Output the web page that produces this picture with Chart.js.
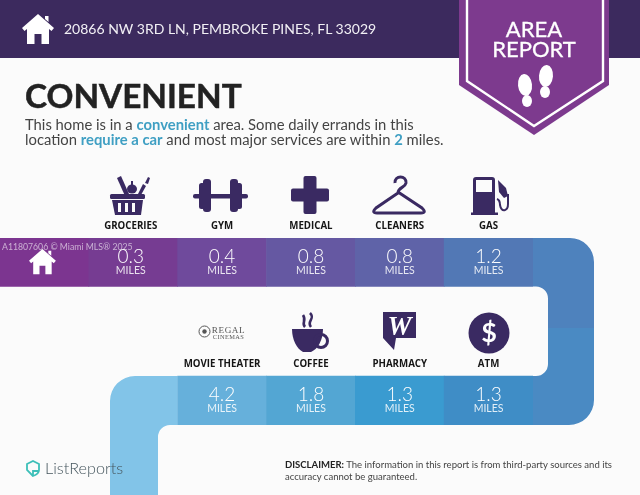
<!DOCTYPE html>
<html>
<head>
<meta charset="utf-8">
<script src="https://cdn.jsdelivr.net/npm/chart.js@4"></script>
<style>
  html, body { margin: 0; padding: 0; background: #fbfbfb; }
  #page { position: relative; width: 640px; height: 495px; overflow: hidden; font-family: Lato, sans-serif; }
  #page > * { position: absolute; }
  #topbar { left: 0; top: 0; width: 640px; height: 58px; background: #3c2a5e; }
  canvas { left: 0; top: 0; }
  #art { left: 0; top: 0; pointer-events: none; }
  .t { white-space: nowrap; }
  #address { left: 64px; top: 20px; font-size: 14px; line-height: 18px; color: #f2f0f5; }
  #area { left: 459px; width: 150px; top: 19px; text-align: center; font-size: 22px; line-height: 20px; color: #fff; -webkit-text-stroke: .3px #fff; }
  #headline { left: 25px; top: 74px; font-size: 33.3px; line-height: 42px; font-weight: 700; color: #222; -webkit-text-stroke: .5px #222; }
  #intro { left: 25px; top: 117px; font-size: 14.8px; line-height: 14.5px; color: #444; }
  #intro b { color: #3f9fc3; }
  #mark { left: 2px; top: 241px; font-size: 8.7px; line-height: 12px; color: rgba(255,255,255,.6); }
  #brand { left: 45px; top: 458px; font-size: 16.2px; line-height: 20px; font-weight: 300; color: #46565e; }
  #note { left: 285px; top: 459px; font-size: 9.54px; line-height: 12px; color: #444; }
  #note b { color: #222; }
</style>
</head>
<body>
<div id="page">
  <div id="topbar"></div>
  <canvas id="chart" width="640" height="495"></canvas>
  <svg id="art" width="640" height="495" viewBox="0 0 640 495">
    <defs>
      <path id="home" d="M16 0 L32 14 L29.5 17 L27 15 V30 H19.5 V20 H12.5 V30 H5 V15 L2.5 17 L0 14 Z M23 2 H26.5 V8 L23 5 Z"/>
    </defs>
    <use href="#home" x="22" y="14" fill="#fff"/>
    <use href="#home" transform="translate(29 249) scale(.84)" fill="#fff"/>

    <!-- ribbon -->
    <path d="M459 0 H609 V85 L534 135 L459 85 Z" fill="#7d3a8e"/>
    <path d="M467 0 V81 L534 126 L603 81 V0" fill="none" stroke="#fff" stroke-width="2.4"/>
    <g fill="#fff">
      <ellipse cx="525" cy="85" rx="7" ry="11" transform="rotate(-6 525 85)"/>
      <ellipse cx="527" cy="101" rx="5" ry="6"/>
      <ellipse cx="546" cy="76" rx="7" ry="11" transform="rotate(5 546 76)"/>
      <ellipse cx="545" cy="92" rx="5" ry="6"/>
    </g>

    <g fill="#3a2a62" stroke="none">
      <!-- groceries -->
      <path d="M117 178 L121 176 L129 194 L125 196 Z"/>
      <ellipse cx="132" cy="189" rx="5" ry="4.5"/>
      <rect x="131" y="181" width="2" height="4"/>
      <path d="M138 194 L143 184 L146 186 L141 195 Z"/>
      <path d="M145 183 l3 -6 l2 1 l-2 6 z"/>
      <rect x="110" y="194" width="35" height="5" rx="1.5"/>
      <path d="M112 200 H143 L141 215 H115 Z"/>
      <g fill="#fbfbfb"><rect x="118" y="203" width="3" height="9"/><rect x="125" y="203" width="3" height="9"/><rect x="132" y="203" width="3" height="9"/></g>
      <!-- gym -->
      <rect x="193" y="194" width="55" height="4.5" rx="2"/>
      <rect x="199" y="183" width="6" height="26" rx="2.5"/>
      <rect x="203" y="179" width="8" height="33" rx="3"/>
      <rect x="236" y="183" width="6" height="26" rx="2.5"/>
      <rect x="230" y="179" width="8" height="33" rx="3"/>
      <!-- medical -->
      <rect x="303.5" y="176" width="13" height="38" rx="2"/>
      <rect x="291" y="188.5" width="38" height="13" rx="2"/>
      <!-- gas -->
      <path d="M476 177 H492 Q495 177 495 180 V213 H473 V180 Q473 177 476 177 Z M476 180 V192 H492 V180 Z" fill-rule="evenodd"/>
      <rect x="471" y="212.5" width="27" height="2.5"/>
      <path d="M498 180 L506 188 L508 196 L504 198 L499 192 Z"/>
      <!-- coffee -->
      <path d="M292 329 H323 C323 340 318 349 311 352 H303 C297 349 292 340 292 329 Z"/>
      <!-- pharmacy -->
      <path d="M383 312 H416 V338 H396 L394 350 L383 338 Z"/>
      <!-- atm -->
      <circle cx="489" cy="333" r="20.5"/>
    </g>
    <g fill="none" stroke="#3a2a62">
      <path d="M395 183 C394 175 407 175 406 183 C405 188 398 187 398 193 L376 208 Q371 213 377 213 L421 213 Q427 213 422 208 L398 192" stroke-width="3"/>
      <path d="M497 199 Q500 200 500 205 Q501 211 505 210 Q508 209 508 204 V194" stroke-width="2"/>
      <circle cx="321" cy="341" r="6.5" stroke-width="3"/>
      <path d="M305 327 C301 323 307 321 303 315 M311 327 C306 321 316 319 310 313" stroke-width="2.6"/>
      <circle cx="204.500" cy="331.500" r="5.500" stroke="#555" stroke-width="1"/>
      <path d="M33 476 L27 470 V464 L33 461 L39 464 V470 Q39 474 33 476 Z M33 476 V471 H38" stroke="#3cbfb8" stroke-width="1.8"/>
    </g>
    <circle cx="204.500" cy="331.500" r="2.200" fill="#555"/>
    <g font-family="'Liberation Serif', serif" text-anchor="middle">
      <text x="399.500" y="335" font-size="27" font-style="italic" font-weight="700" fill="#fff">W</text>
      <text x="228.500" y="332.500" font-size="9.2" letter-spacing=".6" fill="#555">REGAL</text>
      <text x="228.500" y="338.800" font-size="6.4" letter-spacing=".4" fill="#555">CINEMAS</text>
    </g>
    <text x="489" y="342" font-size="27" font-family="Lato, sans-serif" font-weight="700" text-anchor="middle" fill="#fff">$</text>
  </svg>
  <div id="address" class="t">20866 NW 3RD LN, PEMBROKE PINES, FL 33029</div>
  <div id="area" class="t">AREA<br>REPORT</div>
  <div id="headline" class="t">CONVENIENT</div>
  <div id="intro" class="t">This home is in a <b>convenient</b> area. Some daily errands in this<br>location <b>require a car</b> and most major services are within <b>2</b> miles.</div>
  <div id="mark" class="t">A11807606 © Miami MLS® 2025</div>
  <div id="brand" class="t">ListReports</div>
  <div id="note" class="t"><b>DISCLAIMER:</b> The information in this report is from third-party sources and its<br>accuracy cannot be guaranteed.</div>
</div>

<script>
// values
const topStops = ['GROCERIES', 'GYM', 'MEDICAL', 'CLEANERS', 'GAS'];
const topMiles = [0.3, 0.4, 0.8, 0.8, 1.2];
const bottomStops = ['MOVIE THEATER', 'COFFEE', 'PHARMACY', 'ATM'];
const bottomMiles = [4.2, 1.8, 1.3, 1.3];
const milesUnit = 'MILES';

// colours
const topColors = ['#7c3590', '#763c92', '#6f4a9c', '#6558a2', '#5f63a8', '#5278b5'];
const bottomColors = ['#66b0db', '#53a6d3', '#3a9bd0', '#3f8dc6'];

// layout, in page pixels (y scale runs from the top of the first row to the bottom of the second)
const row1 = [238, 286.5];
const row2 = [376, 425];
const labelGap = 12, valueGap = 19, unitGap = 33;

// the track is one slot for the house + one per stop
const slots = ['HOME', ...topStops];
const topRow = slots.map(() => row1);
const bottomRow = [null, null, ...bottomStops.map(() => row2)];

function drawElbows(chart) {
  const { ctx, scales: { x } } = chart;
  const end = chart.chartArea.right;
  const start = x.getPixelForValue(2) - (x.getPixelForValue(1) - x.getPixelForValue(0)) / 2;
  ctx.save();
  // right turn, upper half
  ctx.fillStyle = '#4e82bd';
  ctx.beginPath();
  ctx.moveTo(end, row1[0]);
  ctx.lineTo(570, row1[0]);
  ctx.arcTo(594, row1[0], 594, row1[0] + 24, 24);
  ctx.lineTo(594, 328);
  ctx.lineTo(548, 328);
  ctx.lineTo(548, 298);
  ctx.arcTo(548, row1[1], 536, row1[1], 12);
  ctx.lineTo(end, row1[1]);
  ctx.fill();
  // right turn, lower half
  ctx.fillStyle = '#4a8ac3';
  ctx.beginPath();
  ctx.moveTo(548, 328);
  ctx.lineTo(594, 328);
  ctx.lineTo(594, 400);
  ctx.arcTo(594, row2[1], 569, row2[1], 25);
  ctx.lineTo(end, row2[1]);
  ctx.lineTo(end, row2[0]);
  ctx.lineTo(536, row2[0]);
  ctx.arcTo(548, row2[0], 548, 364, 12);
  ctx.fill();
  // left turn, runs off the bottom of the page
  ctx.fillStyle = '#82c4e8';
  ctx.beginPath();
  ctx.moveTo(start, row2[0]);
  ctx.lineTo(135, row2[0]);
  ctx.arcTo(110, row2[0], 110, row2[0] + 25, 25);
  ctx.lineTo(110, 495);
  ctx.lineTo(158, 495);
  ctx.lineTo(158, 437);
  ctx.arcTo(158, row2[1], 170, row2[1], 12);
  ctx.lineTo(start, row2[1]);
  ctx.fill();
  ctx.restore();
}

function drawStop(ctx, px, name, miles, row) {
  ctx.textAlign = 'center';
  ctx.textBaseline = 'middle';
  ctx.fillStyle = '#151515';
  ctx.font = '700 9.700px "Open Sans", sans-serif';
  ctx.fillText(name, px, row[0] - labelGap);
  ctx.fillStyle = '#fff';
  ctx.font = '300 19px Lato, sans-serif';
  ctx.fillText(miles.toFixed(1), px, row[0] + valueGap);
  ctx.fillStyle = 'rgba(255,255,255,.85)';
  ctx.font = '400 10.500px Lato, sans-serif';
  ctx.fillText(milesUnit, px, row[0] + unitGap);
}

const trackPlugin = {
  id: 'track',
  beforeDatasetsDraw: drawElbows,
  afterDatasetsDraw(chart) {
    const { ctx, scales: { x } } = chart;
    ctx.save();
    // the first stop's text sits a little left of its cell centre
    topStops.forEach((s, i) => drawStop(ctx, x.getPixelForValue(i + 1) - (i === 0 ? 2.5 : 0), s, topMiles[i], row1));
    bottomStops.forEach((s, i) => drawStop(ctx, x.getPixelForValue(i + 2), s, bottomMiles[i], row2));
    ctx.restore();
  }
};

new Chart(document.getElementById('chart'), {
  type: 'bar',
  data: {
    labels: slots,
    datasets: [
      { data: topRow, backgroundColor: topColors },
      { data: bottomRow, backgroundColor: [null, null, ...bottomColors] }
    ]
  },
  options: {
    responsive: false,
    animation: false,
    layout: { padding: { top: row1[0], bottom: 495 - row2[1], left: 0, right: 107 } },
    plugins: { legend: { display: false }, tooltip: { enabled: false } },
    datasets: { bar: { grouped: false, barPercentage: 1, categoryPercentage: 1, borderWidth: 0 } },
    scales: {
      x: { display: false },
      y: { display: false, reverse: true, min: row1[0], max: row2[1] }
    }
  },
  plugins: [trackPlugin]
});
</script>
</body>
</html>
